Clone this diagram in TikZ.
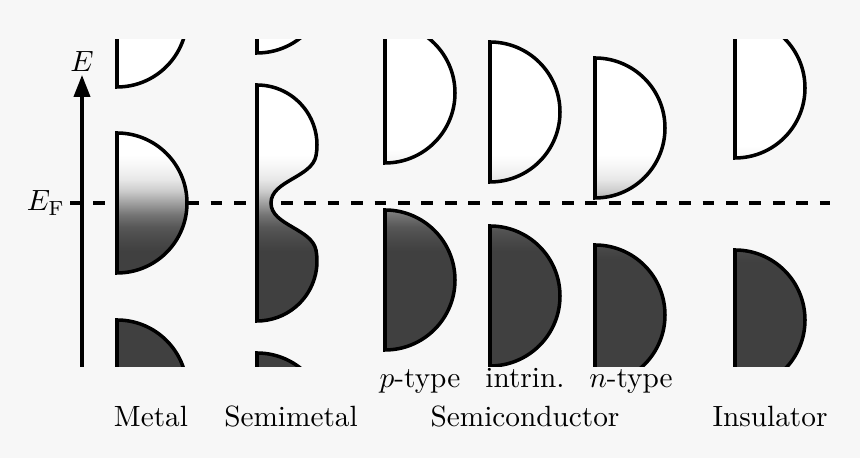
\documentclass[tikz,border=0pt]{standalone}
\usetikzlibrary{arrows.meta}
\definecolor{bandfill}{HTML}{404040}
\definecolor{bg}{HTML}{F7F7F7}
% occupation of the states, centred on the Fermi level (y=0)
\pgfdeclareverticalshading{fermi}{100bp}{color(0bp)=(bandfill); color(42.94bp)=(bandfill);
  color(44.71bp)=(bandfill!95!white); color(46.47bp)=(bandfill!88!white);
  color(48.24bp)=(bandfill!73!white); color(50bp)=(bandfill!50!white);
  color(51.76bp)=(bandfill!27!white); color(53.53bp)=(bandfill!12!white);
  color(55.29bp)=(bandfill!5!white); color(57.06bp)=(white); color(100bp)=(white)}
\begin{document}
\begin{tikzpicture}[x=0.6cm,y=0.6cm,
    band/.style={draw=black,line width=1.2pt,
      path picture={\shade[shading=fermi] (0,-3.4) rectangle (17.2,3.4);}},
    axis/.style={line width=1.2pt,-{Triangle[length=7.5pt,width=5.5pt]}},
    fermiline/.style={line width=1.2pt,dash pattern=on 4pt off 4pt},
    lbl/.style={anchor=base}]
        \useasboundingbox (0,-5.1) rectangle (17.2,4.06);
        \fill[bg] (0,-5.1) rectangle (17.2,4.06);
        % Fermi level and energy axis
        \coordinate (fl) at (1.4,0);
        \coordinate (fr) at (16.6,0);
        \draw[fermiline] (fl) -- (fr);
        \node[left,inner sep=1.5pt] (ef) at (fl) {$E_{\mathrm{F}}$};
        \coordinate (ebot) at (1.64,-3.28);
        \coordinate (etop) at (1.64,2.56);
        \draw[axis] (ebot) -- (etop);
        \node[above,inner sep=1pt] (elbl) at (etop) {$E$};
        \begin{scope}
          \clip (0,-3.28) rectangle (17.2,3.26);
          % metal
          \draw[band] (2.34,5.12) arc[start angle=90,end angle=-90,radius=1.4] -- cycle;
          \draw[band] (2.34,1.4) arc[start angle=90,end angle=-90,radius=1.4] -- cycle;
          \draw[band] (2.34,-2.34) arc[start angle=90,end angle=-90,radius=1.4] -- cycle;
          % semimetal
          \draw[band] (5.14,5.8) arc[start angle=90,end angle=-90,radius=1.4] -- cycle;
          \draw[band] (5.14,2.36) arc[start angle=90,end angle=-10,radius=1.2]
            .. controls (6.243,0.507) and (5.42,0.45) .. (5.42,0)
            .. controls (5.42,-0.45) and (6.243,-0.507) .. (6.3218,-0.9516)
            arc[start angle=10,end angle=-90,radius=1.2] -- cycle;
          \draw[band] (5.14,-3.0) arc[start angle=90,end angle=-90,radius=1.4] -- cycle;
          % semiconductor: p-type, intrinsic, n-type
          \draw[band] (7.7,3.6) arc[start angle=90,end angle=-90,radius=1.4] -- cycle;
          \draw[band] (7.7,-0.14) arc[start angle=90,end angle=-90,radius=1.4] -- cycle;
          \draw[band] (9.8,3.22) arc[start angle=90,end angle=-90,radius=1.4] -- cycle;
          \draw[band] (9.8,-0.46) arc[start angle=90,end angle=-90,radius=1.4] -- cycle;
          \draw[band] (11.9,2.9) arc[start angle=90,end angle=-90,radius=1.4] -- cycle;
          \draw[band] (11.9,-0.84) arc[start angle=90,end angle=-90,radius=1.4] -- cycle;
          % insulator
          \draw[band] (14.7,3.7) arc[start angle=90,end angle=-90,radius=1.4] -- cycle;
          \draw[band] (14.7,-0.94) arc[start angle=90,end angle=-90,radius=1.4] -- cycle;
        \end{scope}
        \node[lbl] (ptype) at (8.4,-3.7) {$p$-type};
        \node[lbl] (intrin) at (10.5,-3.7) {intrin.};
        \node[lbl] (ntype) at (12.62,-3.7) {$n$-type};
        \node[lbl] (metal) at (3.02,-4.48) {Metal};
        \node[lbl] (semimetal) at (5.82,-4.48) {Semimetal};
        \node[lbl] (semicond) at (10.5,-4.48) {Semiconductor};
        \node[lbl] (insul) at (15.4,-4.48) {Insulator};
      \end{tikzpicture}
\end{document}
